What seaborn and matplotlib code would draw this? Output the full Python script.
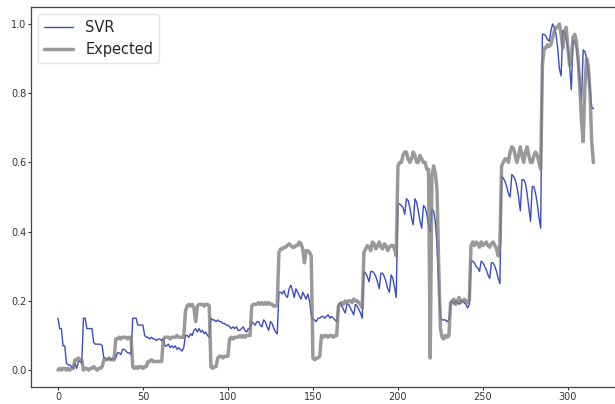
import numpy as np
import matplotlib
matplotlib.use("Agg")
import matplotlib.pyplot as plt
import seaborn as sns

# Model output (SVR) and the expected target series, one value per time step
svr = [
    0.15, 0.12, 0.12, 0.07, 0.07, 0.02, 0.015, 0.015, 0.01, 0.005,
    0.02, 0.005, 0.025, 0.025, 0.02, 0.15, 0.15, 0.12, 0.12, 0.12,
    0.12, 0.08, 0.075, 0.075, 0.075, 0.075, 0.07, 0.035, 0.035, 0.03,
    0.035, 0.03, 0.035, 0.03, 0.035, 0.05, 0.05, 0.045, 0.06, 0.06,
    0.055, 0.05, 0.05, 0.045, 0.15, 0.15, 0.15, 0.13, 0.13, 0.13,
    0.13, 0.1, 0.095, 0.095, 0.09, 0.095, 0.09, 0.09, 0.085, 0.09,
    0.09, 0.085, 0.09, 0.07, 0.07, 0.075, 0.065, 0.07, 0.065, 0.07,
    0.06, 0.065, 0.06, 0.055, 0.065, 0.1, 0.1, 0.095, 0.105, 0.1,
    0.115, 0.12, 0.11, 0.12, 0.11, 0.115, 0.105, 0.11, 0.1, 0.095,
    0.15, 0.145, 0.145, 0.14, 0.145, 0.14, 0.14, 0.135, 0.135, 0.13,
    0.13, 0.125, 0.12, 0.125, 0.12, 0.125, 0.115, 0.115, 0.12, 0.125,
    0.115, 0.11, 0.12, 0.12, 0.14, 0.135, 0.13, 0.14, 0.14, 0.13,
    0.125, 0.145, 0.14, 0.125, 0.115, 0.14, 0.135, 0.12, 0.11, 0.105,
    0.225, 0.225, 0.22, 0.23, 0.215, 0.21, 0.235, 0.245, 0.23, 0.21,
    0.235, 0.225, 0.215, 0.205, 0.225, 0.215, 0.205, 0.22, 0.2, 0.16,
    0.145, 0.145, 0.14, 0.15, 0.15, 0.155, 0.155, 0.15, 0.155, 0.16,
    0.15, 0.155, 0.15, 0.145, 0.14, 0.19, 0.195, 0.185, 0.175, 0.165,
    0.19, 0.19, 0.18, 0.17, 0.16, 0.19, 0.185, 0.175, 0.165, 0.15,
    0.285, 0.28, 0.27, 0.255, 0.285, 0.285, 0.28, 0.27, 0.255, 0.235,
    0.28, 0.28, 0.27, 0.255, 0.235, 0.225, 0.275, 0.265, 0.24, 0.21,
    0.48, 0.48, 0.475, 0.47, 0.45, 0.495, 0.49, 0.47, 0.44, 0.42,
    0.495, 0.485, 0.46, 0.43, 0.41, 0.475, 0.47, 0.45, 0.42, 0.40,
    0.465, 0.46, 0.43, 0.36, 0.25, 0.155, 0.145, 0.145, 0.145, 0.14,
    0.145, 0.195, 0.2, 0.19, 0.2, 0.195, 0.19, 0.2, 0.2, 0.195,
    0.19, 0.18, 0.19, 0.315, 0.315, 0.31, 0.3, 0.295, 0.285, 0.315,
    0.31, 0.3, 0.29, 0.275, 0.265, 0.31, 0.31, 0.3, 0.285, 0.265,
    0.25, 0.56, 0.555, 0.545, 0.53, 0.51, 0.50, 0.565, 0.56, 0.55,
    0.53, 0.50, 0.46, 0.55, 0.55, 0.54, 0.51, 0.47, 0.43, 0.53,
    0.53, 0.51, 0.48, 0.44, 0.41, 0.97, 0.97, 0.965, 0.955, 0.95,
    0.98, 1.0, 0.99, 0.97, 0.93, 0.87, 0.85, 0.98, 0.975, 0.96,
    0.93, 0.88, 0.81, 0.95, 0.95, 0.93, 0.89, 0.83, 0.78, 0.925,
    0.92, 0.9, 0.86, 0.81, 0.76, 0.755,
]

expected = [
    0.0, 0.005, 0.0, 0.005, 0.005, 0.0, 0.005, 0.0, 0.005, 0.005,
    0.03, 0.03, 0.035, 0.03, 0.03, 0.0, 0.005, 0.005, 0.0, 0.005,
    0.005, 0.01, 0.005, 0.0, 0.005, 0.005, 0.01, 0.03, 0.03, 0.03,
    0.035, 0.03, 0.03, 0.03, 0.09, 0.09, 0.095, 0.09, 0.095, 0.095,
    0.095, 0.09, 0.095, 0.095, 0.01, 0.005, 0.01, 0.005, 0.01, 0.01,
    0.005, 0.01, 0.01, 0.025, 0.025, 0.03, 0.025, 0.025, 0.025, 0.025,
    0.025, 0.025, 0.09, 0.095, 0.095, 0.095, 0.09, 0.095, 0.095, 0.095,
    0.1, 0.095, 0.095, 0.095, 0.095, 0.17, 0.185, 0.19, 0.185, 0.19,
    0.18, 0.14, 0.185, 0.19, 0.19, 0.19, 0.185, 0.19, 0.19, 0.185,
    0.01, 0.005, 0.01, 0.01, 0.035, 0.04, 0.04, 0.035, 0.04, 0.04,
    0.04, 0.09, 0.095, 0.09, 0.095, 0.095, 0.095, 0.1, 0.095, 0.1,
    0.095, 0.1, 0.1, 0.1, 0.185, 0.19, 0.19, 0.19, 0.195, 0.19,
    0.195, 0.19, 0.195, 0.19, 0.195, 0.19, 0.19, 0.185, 0.185, 0.19,
    0.34, 0.35, 0.35, 0.355, 0.355, 0.36, 0.365, 0.36, 0.355, 0.355,
    0.36, 0.36, 0.37, 0.365, 0.35, 0.31, 0.345, 0.345, 0.34, 0.33,
    0.035, 0.03, 0.035, 0.035, 0.04, 0.1, 0.095, 0.1, 0.1, 0.095,
    0.1, 0.1, 0.095, 0.1, 0.1, 0.185, 0.19, 0.195, 0.19, 0.2,
    0.195, 0.2, 0.2, 0.195, 0.205, 0.2, 0.2, 0.195, 0.19, 0.18,
    0.34, 0.35, 0.36, 0.355, 0.345, 0.37, 0.365, 0.35, 0.36, 0.37,
    0.355, 0.35, 0.365, 0.36, 0.345, 0.355, 0.36, 0.36, 0.35, 0.33,
    0.59, 0.6, 0.6, 0.62, 0.63, 0.63, 0.61, 0.6, 0.61, 0.63,
    0.62, 0.6, 0.6, 0.62, 0.61, 0.6, 0.6, 0.58, 0.58, 0.035,
    0.56, 0.59, 0.57, 0.52, 0.3, 0.12, 0.095, 0.09, 0.1, 0.095,
    0.1, 0.195, 0.2, 0.205, 0.19, 0.2, 0.21, 0.195, 0.2, 0.205,
    0.2, 0.195, 0.2, 0.36, 0.37, 0.36, 0.37, 0.365, 0.355, 0.37,
    0.36, 0.365, 0.37, 0.36, 0.355, 0.365, 0.37, 0.36, 0.35, 0.33,
    0.365, 0.59, 0.6, 0.61, 0.61, 0.6, 0.63, 0.645, 0.64, 0.62,
    0.6, 0.62, 0.645, 0.62, 0.6, 0.63, 0.645, 0.62, 0.6, 0.6,
    0.62, 0.63, 0.62, 0.6, 0.58, 0.88, 0.93, 0.93, 0.94, 0.935,
    0.94, 0.96, 0.98, 0.99, 0.99, 1.0, 0.97, 0.93, 0.98, 0.99,
    0.93, 0.88, 0.9, 0.96, 0.97, 0.95, 0.9, 0.82, 0.72, 0.66,
    0.82, 0.9, 0.88, 0.8, 0.66, 0.6,
]

x_ticks = [0, 50, 100, 150, 200, 250, 300]
y_ticks = [0.0, 0.2, 0.4, 0.6, 0.8, 1.0]

sns.set_style("ticks")
plt.rcParams["font.family"] = ["DejaVu Sans"]

fig = plt.figure(figsize=(6.15, 4.04), dpi=100)
ax = fig.add_axes([0.0507, 0.041, 0.9577, 0.9426])

steps = np.arange(len(svr))
sns.lineplot(x=steps, y=svr, ax=ax, color="#3b4cc0", linewidth=1.0, label="SVR")
sns.lineplot(x=steps, y=expected, ax=ax, color="gray", linewidth=2.5,
             alpha=0.8, label="Expected")

ax.set_xlim(-15.75, 330.75)
ax.set_ylim(-0.05, 1.05)
ax.set_xticks(x_ticks)
ax.set_yticks(y_ticks)
ax.set_xticklabels([str(v) for v in x_ticks])
ax.set_yticklabels([f"{v:.1f}" for v in y_ticks])
ax.tick_params(labelsize=7, length=2.5, width=0.8, pad=1, colors="#333333")
for s in ax.spines.values():
    s.set_color("#444444")
    s.set_linewidth(0.9)

ax.legend(loc="upper left", fontsize=10.5, frameon=True, framealpha=0.8,
          edgecolor="#dddddd", borderaxespad=0.5, handlelength=2.0)

fig.savefig("out.png", dpi=100)
